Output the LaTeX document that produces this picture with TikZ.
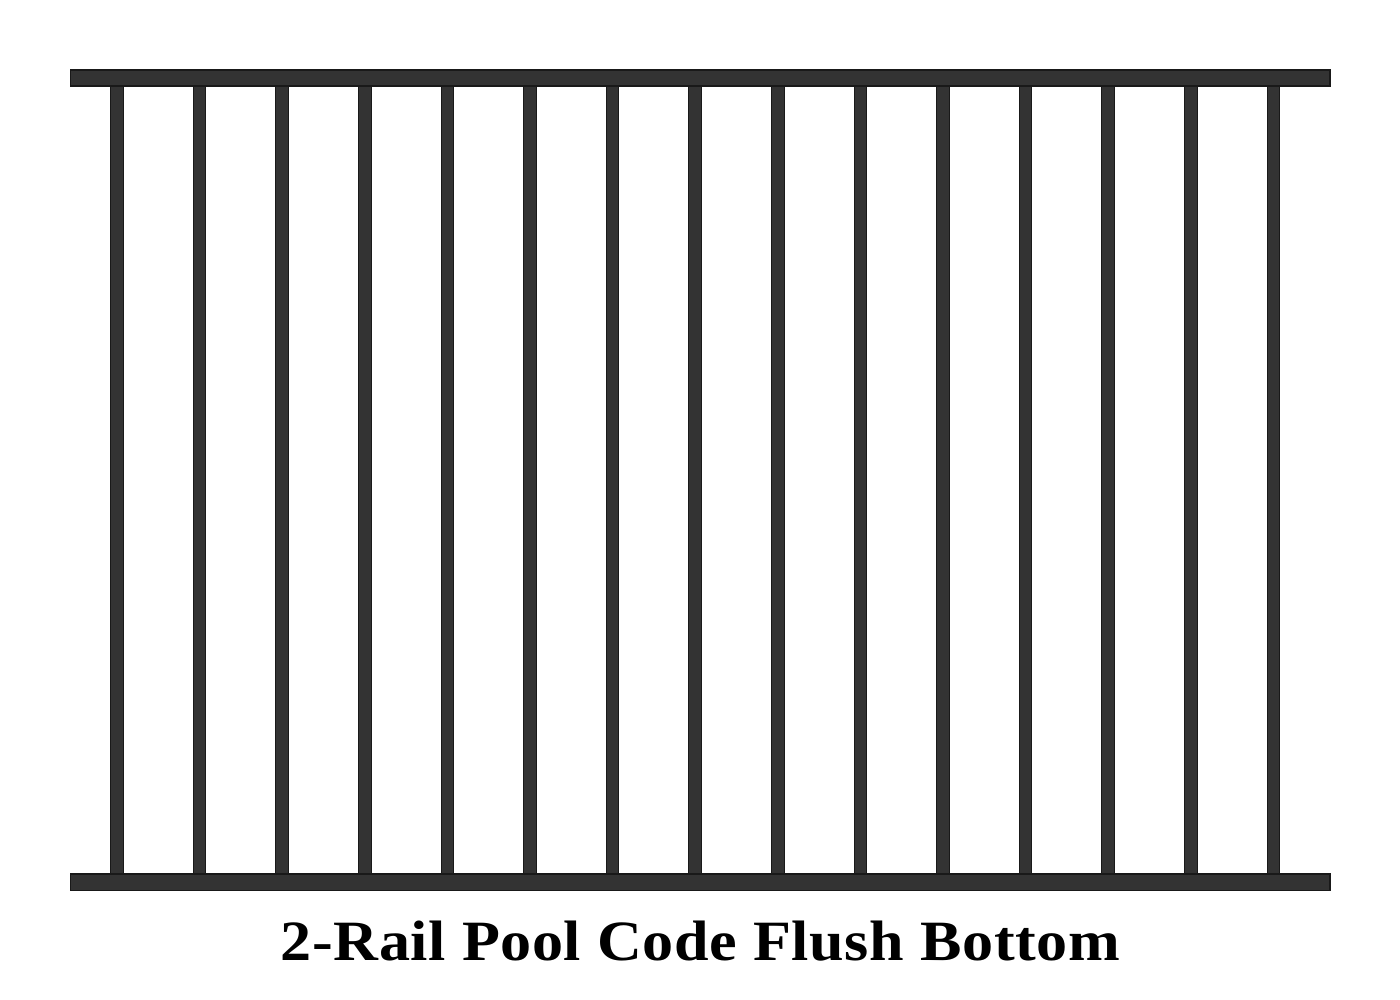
\documentclass[tikz,border=0pt]{standalone}
\usepackage{fontspec}
\setmainfont{Liberation Serif}
\newfontfamily\captionfont[LetterSpace=1]{Liberation Serif}
\usetikzlibrary{calc}

\tikzset{
  rail/.style={fill=black!80,draw=black!90,line width=0.3pt},
  picket/.style={fill=black!80,draw=black!90,line width=0.3pt}
}

\begin{document}
\begin{tikzpicture}[x=0.01cm,y=-0.01cm]
		\useasboundingbox (0,0) rectangle (1400,1000);
		% pickets
		\foreach \i in {0,...,14}{
			\draw[picket] ({117+82.6*\i-6.3},80) rectangle ({117+82.6*\i+6.3},880);
		}
		% rails
		\draw[rail] (70.5,70) rectangle (1330,86);
		\draw[rail] (70.5,874) rectangle (1330,890.5);
		%
		\node[anchor=base west,inner sep=0pt] (caption) at (280,960) {\scalebox{1.09}[1]{\fontsize{16.2}{19}\captionfont\bfseries 2-Rail Pool Code Flush Bottom}};
	\end{tikzpicture}
\end{document}
